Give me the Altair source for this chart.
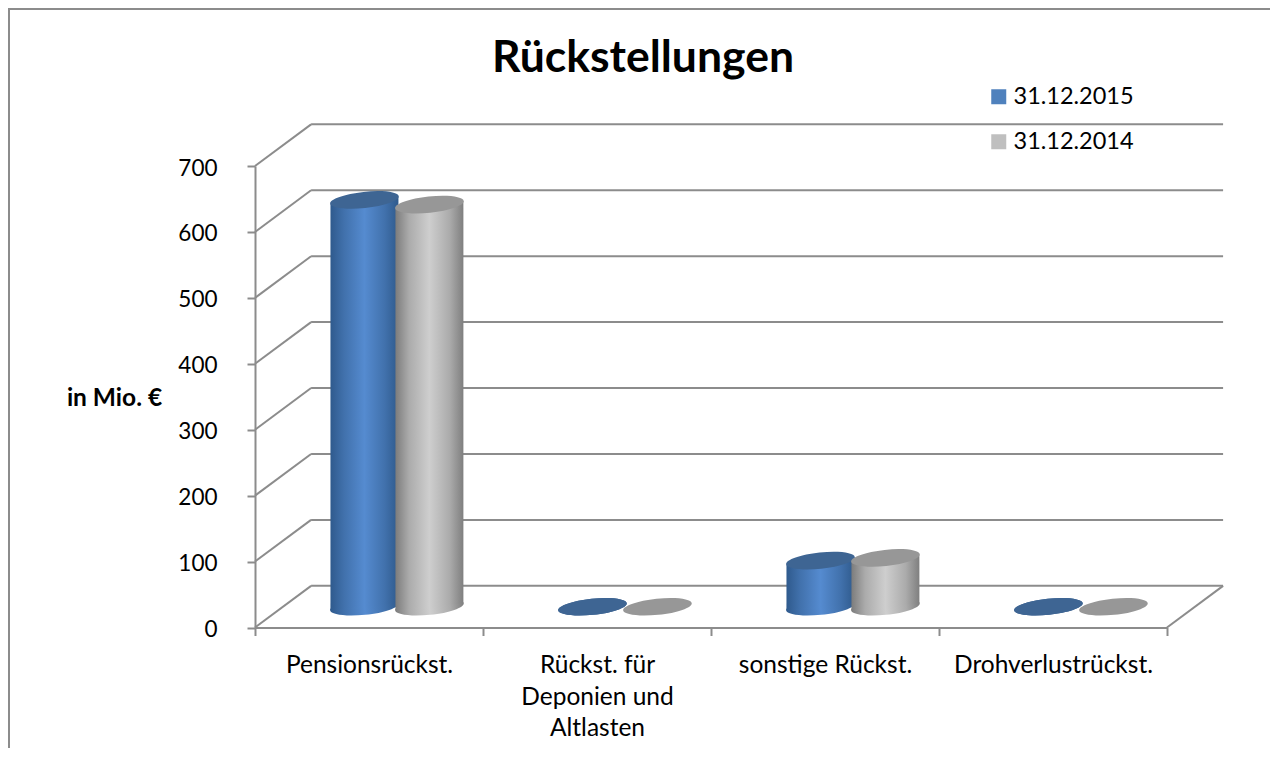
import altair as alt
import pandas as pd

categories = ["Pensionsrückst.", "Rückst. für|Deponien und|Altlasten", "sonstige Rückst.", "Drohverlustrückst."]
values_2015 = [617, 0, 70, 0]
values_2014 = [610, 0, 74, 0]
series_names = ["31.12.2015", "31.12.2014"]
y_ticks = [0, 100, 200, 300, 400, 500, 600, 700]
cat_pos = [0, 1, 2, 3]

# chart geometry expressed in data units
DEPTH_X = 0.246
DEPTH_Y = 63.2
FLOOR = 31.5
OFFSET_2015 = 0.48
OFFSET_2014 = 0.765
HALF_W = 0.149
TILT = 5.4

FONT = "Lato"
LINE = "#8C8C8C"
SW = 2
PW, PH = 912, 461.5
XS = alt.Scale(domain=[0, 4], nice=False, zero=False)
YS = alt.Scale(domain=[0, 700], nice=False, zero=False)
ELLIPSE = "M-1,0A1,0.235,0,1,1,1,0A1,0.235,0,1,1,-1,0Z"
ELL_SIZE = 4761
ELL_ANGLE = 354


def grad(stops):
    return alt.Gradient(
        gradient="linear", x1=0, x2=1, y1=0, y2=0,
        stops=[alt.GradientStop(offset=o, color=c) for o, c in stops],
    )


def qx(name, **kw):
    return alt.X(name, type="quantitative", scale=XS, axis=None, **kw)


def qy(name):
    return alt.Y(name, type="quantitative", scale=YS, axis=None)


# back wall and side lines
wall = pd.DataFrame({"v": y_ticks})
wall["x"] = 0.0
wall["xb"] = DEPTH_X
wall["xe"] = 4 + DEPTH_X
wall["yb"] = wall["v"] + DEPTH_Y
diag = alt.Chart(wall).mark_rule(color=LINE, strokeWidth=SW).encode(
    x=qx("x"), x2="xb", y=qy("v"), y2="yb")
back = alt.Chart(wall).mark_rule(color=LINE, strokeWidth=SW).encode(
    x=qx("xb"), x2="xe", y=qy("yb"))
side = alt.Chart(pd.DataFrame({"x": [4.0], "xb": [4 + DEPTH_X], "v": [0.0], "yb": [DEPTH_Y]})).mark_rule(
    color=LINE, strokeWidth=SW).encode(x=qx("x"), x2="xb", y=qy("v"), y2="yb")

# outer frame, which runs off the picture at the right and the bottom
frame_top = alt.Chart(pd.DataFrame({"a": [0]})).mark_rule(color=LINE, strokeWidth=2).encode(
    x=alt.value(-247), x2=alt.value(1100), y=alt.value(-157))
frame_left = alt.Chart(pd.DataFrame({"a": [0]})).mark_rule(color=LINE, strokeWidth=2).encode(
    x=alt.value(-246), y=alt.value(-157), y2=alt.value(700))


# real axes
axis_x = alt.Chart(pd.DataFrame({"cat": categories})).mark_point(opacity=0).encode(
    x=alt.X("cat:N", sort=None, title=None,
            scale=alt.Scale(type="band", paddingInner=0, paddingOuter=0),
            axis=alt.Axis(labelExpr="split(datum.label,'|')", labelAngle=0, labelFont=FONT,
                          labelFontSize=24.5, labelColor="#000000", labelLimit=0, labelOverlap=False,
                          labelLineHeight=31.5, labelPadding=18, labelBaseline="top",
                          tickBand="extent", tickSize=8, tickColor=LINE, tickWidth=SW,
                          domainColor=LINE, domainWidth=SW, grid=False)))
axis_y = alt.Chart(pd.DataFrame({"v": y_ticks})).mark_point(opacity=0).encode(
    y=alt.Y("v:Q", scale=YS,
            axis=alt.Axis(values=y_ticks, title="in Mio. €", titleAngle=0, titleFont=FONT,
                          titleFontSize=24.5, titleFontWeight="bold", titleColor="#000000",
                          titleAlign="center", titleBaseline="middle", titleX=-141, titleY=232,
                          labelFont=FONT, labelFontSize=22.5, labelColor="#000000", labelPadding=30,
                          labelOffset=2,
                          tickSize=8, tickColor=LINE, tickWidth=SW,
                          domainColor=LINE, domainWidth=SW, grid=False)))


def cylinders(values, offset, body, top):
    d = pd.DataFrame({"i": cat_pos, "v": values})
    d["c"] = d["i"] + offset
    d["b"] = FLOOR
    d["t"] = d["v"] + FLOOR
    tall = d[d["v"] > 0]
    # the wall of each cylinder is sheared to follow the tilt of its discs
    left = tall.assign(xe=tall["c"] - HALF_W, low=tall["b"] - TILT, high=tall["t"] - TILT)
    right = tall.assign(xe=tall["c"] + HALF_W, low=tall["b"] + TILT, high=tall["t"] + TILT)
    wall_df = pd.concat([left, right], ignore_index=True).sort_values(["i", "xe"])
    bottom_m = alt.Chart(tall).mark_point(filled=True, shape=ELLIPSE, size=ELL_SIZE, angle=ELL_ANGLE,
                                          fill=body, opacity=1, strokeWidth=0).encode(x=qx("c"), y=qy("b"))
    body_m = alt.Chart(wall_df).mark_area(fill=body, opacity=1, interpolate="linear").encode(
        x=qx("xe"), y=qy("low"), y2="high", detail="i:N")
    top_m = alt.Chart(d).mark_point(filled=True, shape=ELLIPSE, size=ELL_SIZE, angle=ELL_ANGLE,
                                    fill=top, opacity=1, strokeWidth=0).encode(x=qx("c"), y=qy("t"))
    return [bottom_m, body_m, top_m], d


blue_grad = grad([(0, "#2F5A8D"), (0.2, "#4171AC"), (0.5, "#558BD0"), (0.8, "#4171AC"), (1, "#2F5A8C")])
grey_grad = grad([(0, "#7C7C7C"), (0.2, "#ABABAB"), (0.5, "#CECECE"), (0.8, "#ABABAB"), (1, "#7F7F7F")])
blue_layers, blue_df = cylinders(values_2015, OFFSET_2015, blue_grad, "#3E6593")
grey_layers, grey_df = cylinders(values_2014, OFFSET_2014, grey_grad, "#979797")

# where there is no height, the blue disc lies over the grey one
flat_blue = alt.Chart(blue_df[blue_df["v"] == 0]).mark_point(
    filled=True, shape=ELLIPSE, size=ELL_SIZE, angle=ELL_ANGLE, fill="#3E6593", opacity=1, strokeWidth=0
).encode(x=qx("c"), y=qy("t"))

legend_layer = alt.Chart(pd.DataFrame({"s": series_names, "x": [0.0, 0.0], "y": [0.0, 0.0]})).mark_square(
    size=0).encode(
    x=qx("x"), y=qy("y"),
    color=alt.Color("s:N", sort=None,
                    scale=alt.Scale(domain=series_names, range=["#4F81BD", "#BFBFBF"]),
                    legend=alt.Legend(title=None, orient="none", legendX=732, legendY=-81,
                                      symbolType="square", symbolSize=225, symbolOpacity=1, symbolStrokeWidth=0,
                                      labelFont=FONT, labelFontSize=23.5, labelColor="#000000",
                                      labelOffset=3, rowPadding=20, labelLimit=0)))

chart = alt.layer(
    axis_x, axis_y, frame_top, frame_left, diag, back, side,
    *blue_layers, *grey_layers, flat_blue, legend_layer,
).resolve_scale(x="independent").resolve_axis(y="independent").properties(
    width=PW, height=PH,
    title=alt.TitleParams("Rückstellungen", font=FONT, fontSize=44.5, fontWeight="bold", color="#000000",
                          anchor="middle", dx=-68, dy=73, offset=0),
    padding={"left": 247, "top": 158, "right": 103, "bottom": 120},
    autosize=alt.AutoSizeParams(type="none"),
    background="#FFFFFF",
).configure_view(stroke=None)

chart.save("out.html", embed_options={"renderer": "svg", "actions": False})
